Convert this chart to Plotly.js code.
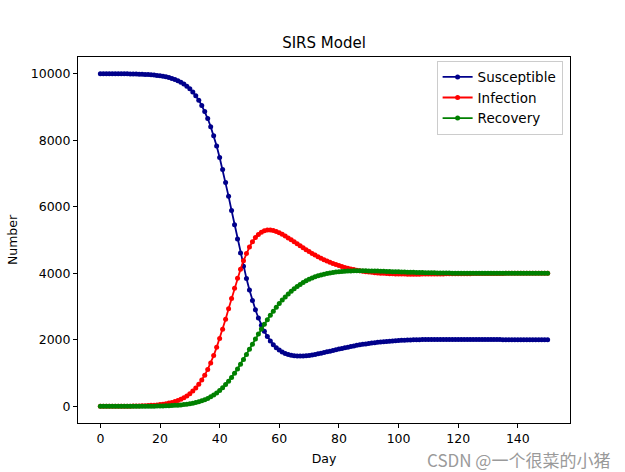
<!DOCTYPE html>
<html>
<head>
<meta charset="utf-8">
<script src="https://cdn.plot.ly/plotly-3.0.1.min.js"></script>
<style>html,body{margin:0;padding:0;background:#fff;}#chart{width:625px;height:472px;}</style>
</head>
<body>
<div id="chart"></div>
<script>
const days = [0,1,2,3,4,5,6,7,8,9,10,11,12,13,14,15,16,17,18,19,20,21,22,23,24,25,26,27,28,29,30,31,32,33,34,35,36,37,38,39,40,41,42,43,44,45,46,47,48,49,50,51,52,53,54,55,56,57,58,59,60,61,62,63,64,65,66,67,68,69,70,71,72,73,74,75,76,77,78,79,80,81,82,83,84,85,86,87,88,89,90,91,92,93,94,95,96,97,98,99,100,101,102,103,104,105,106,107,108,109,110,111,112,113,114,115,116,117,118,119,120,121,122,123,124,125,126,127,128,129,130,131,132,133,134,135,136,137,138,139,140,141,142,143,144,145,146,147,148,149,150];

const susceptible = [9999,9999,9998,9998,9998,9997,9996,9995,9994,9993,9991,9989,9987,9984,9980,9976,9971,9964,9956,9947,9935,9921,9903,9882,9857,9825,9787,9742,9686,9620,9543,9448,9335,9202,9046,8863,8651,8407,8131,7822,7481,7118,6725,6312,5886,5455,5027,4611,4214,3840,3496,3184,2904,2657,2441,2256,2098,1965,1855,1765,1692,1635,1591,1558,1535,1520,1512,1510,1513,1520,1530,1545,1561,1579,1598,1618,1639,1660,1681,1701,1722,1742,1761,1780,1799,1816,1833,1849,1864,1878,1891,1903,1915,1925,1935,1944,1953,1960,1967,1973,1979,1984,1988,1992,1996,1999,2001,2004,2006,2007,2008,2010,2011,2011,2012,2012,2013,2013,2013,2013,2012,2012,2012,2012,2011,2011,2010,2010,2009,2009,2008,2007,2007,2006,2006,2005,2005,2004,2004,2003,2003,2003,2002,2002,2002,2001,2001,2001,2001,2000,2000];

const infection = [1,1,1,2,2,3,3,4,5,6,7,9,11,13,16,20,24,30,36,44,54,66,81,98,119,145,177,214,260,315,381,459,551,661,789,938,1110,1306,1527,1773,2041,2320,2620,2930,3243,3551,3847,4123,4375,4598,4789,4947,5074,5169,5236,5278,5297,5298,5283,5255,5217,5171,5119,5063,5005,4945,4884,4824,4765,4707,4651,4598,4547,4498,4452,4409,4368,4330,4294,4261,4231,4202,4176,4153,4131,4111,4093,4077,4062,4049,4037,4027,4018,4010,4003,3997,3992,3987,3984,3981,3978,3977,3975,3974,3974,3974,3974,3974,3975,3975,3976,3977,3978,3979,3980,3981,3982,3983,3984,3985,3986,3987,3988,3989,3989,3990,3991,3992,3993,3993,3994,3994,3995,3995,3996,3996,3997,3997,3997,3998,3998,3998,3998,3999,3999,3999,3999,4000,4000,4000,4000];

const recovery = [0,0,0,0,0,0,1,1,1,1,1,2,2,3,3,4,5,6,7,9,11,13,16,20,24,30,36,44,54,65,77,94,114,137,166,200,240,287,342,405,478,562,655,758,871,994,1126,1266,1411,1562,1715,1869,2023,2175,2323,2467,2605,2737,2862,2980,3091,3194,3290,3379,3461,3535,3604,3666,3722,3773,3818,3858,3892,3923,3950,3973,3993,4011,4025,4038,4048,4056,4062,4067,4071,4073,4074,4075,4075,4074,4072,4070,4068,4065,4062,4059,4056,4053,4049,4046,4043,4040,4036,4033,4030,4028,4025,4022,4020,4018,4016,4014,4012,4010,4008,4007,4006,4005,4004,4003,4002,4001,4000,4000,4000,3999,3999,3998,3998,3998,3998,3998,3998,3998,3998,3998,3998,3998,3998,3998,3999,3999,3999,3999,3999,3999,3999,3999,3999,4000,4000];

const seriesNames = ['Susceptible', 'Infection', 'Recovery'];
const seriesColors = ['#00008b', '#ff0000', '#008000'];
const xTicks = [0, 20, 40, 60, 80, 100, 120, 140];
const xTickText = ['0', '20', '40', '60', '80', '100', '120', '140'];
const yTicks = [0, 2000, 4000, 6000, 8000, 10000];
const yTickText = ['0', '2000', '4000', '6000', '8000', '10000'];

const FONT = 'DejaVu Sans, Liberation Sans, sans-serif';
const values = [susceptible, infection, recovery];

const traces = values.map((v, k) => ({
  x: days,
  y: v,
  type: 'scatter',
  mode: 'lines+markers',
  name: seriesNames[k],
  line: {color: seriesColors[k], width: 1.8},
  marker: {color: seriesColors[k], size: 5}
}));

const axisCommon = {
  showgrid: false,
  zeroline: false,
  showline: true,
  linecolor: '#000',
  linewidth: 1,
  mirror: true,
  ticks: 'outside',
  ticklen: 4,
  tickwidth: 1,
  tickcolor: '#000',
  tickfont: {family: FONT, size: 12.5, color: '#000'}
};

const layout = {
  width: 625,
  height: 472,
  margin: {l: 78, r: 55, t: 57, b: 49},
  paper_bgcolor: '#fff',
  plot_bgcolor: '#fff',
  font: {family: FONT, color: '#000'},
  title: {
    text: 'SIRS Model',
    font: {family: FONT, size: 15, color: '#000'},
    x: 0.5, xref: 'paper', xanchor: 'center',
    y: 1, yref: 'paper', yanchor: 'bottom',
    pad: {b: 9}
  },
  xaxis: Object.assign({}, axisCommon, {
    range: [-7.5, 157.5],
    tickvals: xTicks,
    ticktext: xTickText,
    title: {text: 'Day', font: {family: FONT, size: 12.5, color: '#000'}, standoff: 9}
  }),
  yaxis: Object.assign({}, axisCommon, {
    range: [-500, 10500],
    tickvals: yTicks,
    ticktext: yTickText,
    title: {text: 'Number', font: {family: FONT, size: 12.5, color: '#000'}, standoff: 10}
  }),
  legend: {
    x: 0.985, y: 0.99, xanchor: 'right', yanchor: 'top',
    bgcolor: 'rgba(255,255,255,0.8)',
    bordercolor: '#cccccc',
    borderwidth: 1,
    font: {family: FONT, size: 13.5, color: '#000'}
  },
  showlegend: true,
  annotations: [{
    text: 'CSDN @一个很菜的小猪',
    xref: 'paper', yref: 'paper',
    x: 1.0, y: -0.0997,
    xanchor: 'right', yanchor: 'middle',
    xshift: 41,
    borderpad: 0,
    showarrow: false,
    font: {family: 'Noto Sans CJK SC, sans-serif', size: 17, color: '#9a9a9a'}
  }]
};

Plotly.newPlot('chart', traces, layout, {displayModeBar: false, staticPlot: true});
</script>
</body>
</html>
